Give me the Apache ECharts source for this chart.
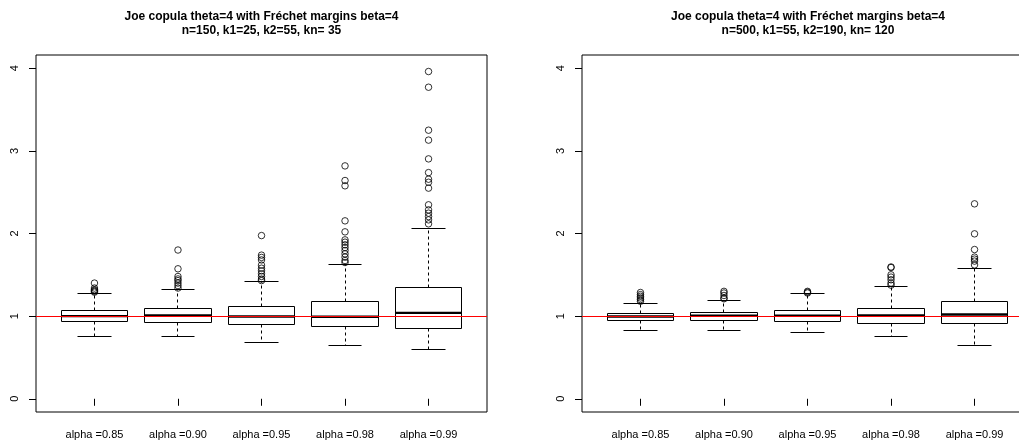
<!DOCTYPE html>
<html>
<head>
<meta charset="utf-8">
<script src="https://cdn.jsdelivr.net/npm/echarts@6/dist/echarts.min.js"></script>
<style>
html,body{margin:0;padding:0;background:#fff;}
#chart{width:1019px;height:441px;}
</style>
</head>
<body>
<div id="chart"></div>
<script>
// ---- data ----
const categories = ['alpha =0.85', 'alpha =0.90', 'alpha =0.95', 'alpha =0.98', 'alpha =0.99'];
const xTickValues = [1, 2, 3, 4, 5];
const yTickValues = [0, 1, 2, 3, 4];
const referenceValue = 1;

const leftTitle = 'Joe copula theta=4 with Fréchet margins beta=4\nn=150, k1=25, k2=55, kn= 35';
const leftLow    = [0.750, 0.754, 0.681, 0.649, 0.593];
const leftQ1     = [0.930, 0.928, 0.903, 0.879, 0.855];
const leftMedian = [1.000, 1.008, 0.996, 0.993, 1.040];
const leftQ3     = [1.073, 1.089, 1.113, 1.177, 1.343];
const leftHigh   = [1.280, 1.322, 1.419, 1.625, 2.060];
const leftOutliers = [
  [1.40, 1.34, 1.32, 1.31, 1.30, 1.29],
  [1.80, 1.573, 1.48, 1.45, 1.43, 1.40, 1.37, 1.34],
  [1.975, 1.738, 1.71, 1.68, 1.617, 1.58, 1.548, 1.512, 1.48, 1.448, 1.43],
  [2.818, 2.641, 2.577, 2.153, 2.02, 1.923, 1.895, 1.863, 1.83, 1.794, 1.754, 1.714, 1.673, 1.649],
  [3.96, 3.77, 3.25, 3.13, 2.903, 2.737, 2.657, 2.62, 2.549, 2.347, 2.286, 2.246, 2.205, 2.165, 2.117]
];

const rightTitle = 'Joe copula theta=4 with Fréchet margins beta=4\nn=500, k1=55, k2=190, kn= 120';
const rightLow    = [0.826, 0.831, 0.802, 0.754, 0.645];
const rightQ1     = [0.947, 0.952, 0.935, 0.911, 0.907];
const rightMedian = [0.995, 1.005, 1.004, 1.008, 1.020];
const rightQ3     = [1.037, 1.049, 1.073, 1.097, 1.177];
const rightHigh   = [1.153, 1.185, 1.274, 1.363, 1.576];
const rightOutliers = [
  [1.286, 1.26, 1.24, 1.22, 1.20, 1.18],
  [1.30, 1.28, 1.25, 1.22, 1.21],
  [1.30, 1.29, 1.28],
  [1.595, 1.588, 1.50, 1.472, 1.44, 1.40, 1.375],
  [2.359, 1.996, 1.806, 1.714, 1.69, 1.666, 1.62]
];

// ---- chart ----
const FONT = '"Liberation Sans", Arial, Helvetica, sans-serif';
const chart = echarts.init(document.getElementById('chart'), null, {renderer: 'canvas'});

function crisp(v) { return Math.round(v - 0.5) + 0.5; }

function renderBox(params, api) {
  const x = api.value(0);
  const low = api.value(1), q1 = api.value(2), med = api.value(3), q3 = api.value(4), high = api.value(5);
  const boxL = api.coord([x - 0.4, q3]);
  const boxR = api.coord([x + 0.4, q1]);
  const stL = api.coord([x - 0.2, low])[0];
  const stR = api.coord([x + 0.2, low])[0];
  const cx = crisp(api.coord([x, med])[0]);
  const yLow = crisp(api.coord([x, low])[1]);
  const yHigh = crisp(api.coord([x, high])[1]);
  const yQ1 = crisp(boxR[1]);
  const yQ3 = crisp(boxL[1]);
  const yMed = api.coord([x, med])[1];
  const xl = crisp(boxL[0]), xr = crisp(boxR[0]);
  const line = {stroke: '#000', lineWidth: 1};
  const dashed = {stroke: '#000', lineWidth: 1, lineDash: [3, 3]};
  return {
    type: 'group',
    children: [
      {type: 'line', shape: {x1: cx, y1: yQ3, x2: cx, y2: yHigh}, style: dashed},
      {type: 'line', shape: {x1: cx, y1: yQ1, x2: cx, y2: yLow}, style: dashed},
      {type: 'line', shape: {x1: crisp(stL), y1: yHigh, x2: crisp(stR), y2: yHigh}, style: line},
      {type: 'line', shape: {x1: crisp(stL), y1: yLow, x2: crisp(stR), y2: yLow}, style: line},
      {type: 'rect', shape: {x: xl, y: yQ3, width: xr - xl, height: yQ1 - yQ3}, style: {fill: 'none', stroke: '#000', lineWidth: 1}},
      {type: 'line', shape: {x1: xl, y1: yMed, x2: xr, y2: yMed}, style: {stroke: '#000', lineWidth: 2.4}}
    ]
  };
}

function boxData(low, q1, med, q3, high) {
  return categories.map((c, i) => [xTickValues[i], low[i], q1[i], med[i], q3[i], high[i]]);
}
function outlierData(outs) {
  const d = [];
  outs.forEach((arr, i) => arr.forEach(v => d.push([xTickValues[i], v])));
  return d;
}

function xAxisCfg(gridIndex) {
  return {
    type: 'value', gridIndex, min: 0.3, max: 5.7,
    axisLine: {show: false},
    splitLine: {show: false},
    axisTick: {show: true, inside: false, length: 7, customValues: xTickValues, lineStyle: {color: '#000', width: 1}},
    axisLabel: {
      show: true, customValues: xTickValues, margin: 17,
      fontFamily: FONT, fontSize: 11, color: '#000',
      formatter: v => categories[xTickValues.indexOf(Math.round(v))] || ''
    }
  };
}
function yAxisCfg(gridIndex) {
  return {
    type: 'value', gridIndex, min: -0.16, max: 4.16,
    axisLine: {show: false},
    splitLine: {show: false},
    axisTick: {show: true, inside: false, length: 7, customValues: yTickValues, lineStyle: {color: '#000', width: 1}},
    axisLabel: {
      show: true, customValues: yTickValues, margin: 16, rotate: 90,
      fontFamily: FONT, fontSize: 11, color: '#000',
      formatter: v => String(Math.round(v))
    }
  };
}

function refLine(idx) {
  return {
    type: 'line', xAxisIndex: idx, yAxisIndex: idx, data: [], z: 10, silent: true,
    markLine: {
      silent: true, symbol: 'none', label: {show: false},
      lineStyle: {color: '#ff0000', width: 1.2, type: 'solid'},
      emphasis: {disabled: true},
      data: [{yAxis: referenceValue}]
    }
  };
}

const option = {
  backgroundColor: '#fff',
  animation: false,
  title: [
    {text: leftTitle, left: 261.5, top: 10, padding: 0, textAlign: 'center',
     textStyle: {fontFamily: FONT, fontSize: 12, fontWeight: 'bold', color: '#000', lineHeight: 14}},
    {text: rightTitle, left: 808, top: 10, padding: 0, textAlign: 'center',
     textStyle: {fontFamily: FONT, fontSize: 12, fontWeight: 'bold', color: '#000', lineHeight: 14}}
  ],
  grid: [
    {left: 36, top: 55, width: 451, height: 357, show: true, borderColor: '#000', borderWidth: 1,
     backgroundColor: 'transparent', outerBoundsMode: 'none', containLabel: false},
    {left: 582, top: 55, width: 451, height: 357, show: true, borderColor: '#000', borderWidth: 1,
     backgroundColor: 'transparent', outerBoundsMode: 'none', containLabel: false}
  ],
  xAxis: [xAxisCfg(0), xAxisCfg(1)],
  yAxis: [yAxisCfg(0), yAxisCfg(1)],
  series: [
    {type: 'custom', xAxisIndex: 0, yAxisIndex: 0, renderItem: renderBox,
     encode: {x: 0, y: [1, 2, 3, 4, 5]}, data: boxData(leftLow, leftQ1, leftMedian, leftQ3, leftHigh), z: 2},
    {type: 'scatter', xAxisIndex: 0, yAxisIndex: 0, data: outlierData(leftOutliers), symbol: 'circle', symbolSize: 6.5,
     itemStyle: {color: 'transparent', borderColor: '#000', borderWidth: 1}, z: 3},
    refLine(0),
    {type: 'custom', xAxisIndex: 1, yAxisIndex: 1, renderItem: renderBox,
     encode: {x: 0, y: [1, 2, 3, 4, 5]}, data: boxData(rightLow, rightQ1, rightMedian, rightQ3, rightHigh), z: 2},
    {type: 'scatter', xAxisIndex: 1, yAxisIndex: 1, data: outlierData(rightOutliers), symbol: 'circle', symbolSize: 6.5,
     itemStyle: {color: 'transparent', borderColor: '#000', borderWidth: 1}, z: 3},
    refLine(1)
  ]
};
chart.setOption(option);
</script>
</body>
</html>
